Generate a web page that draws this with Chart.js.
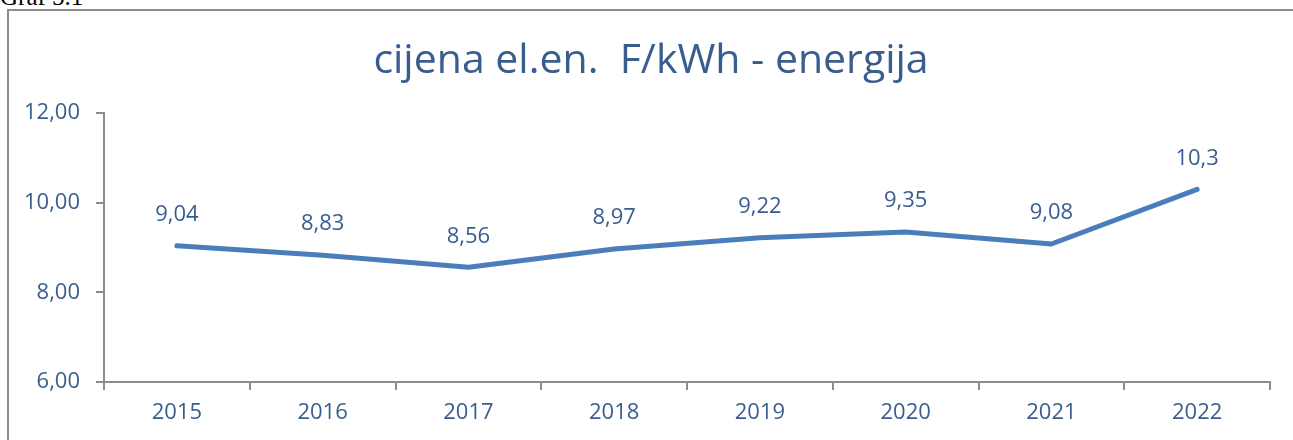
<!DOCTYPE html>
<html>
<head>
<meta charset="utf-8">
<script src="https://cdn.jsdelivr.net/npm/chart.js@4"></script>
<style>
  body { margin: 0; width: 1293px; height: 440px; overflow: hidden; background: #fff; position: relative; }
  #cap { position: absolute; left: 0; top: -16px; font: 25px/25px "Liberation Serif", serif; color: #000; }
  #box { position: absolute; left: 7px; top: 9px; width: 1290px; height: 440px; border-left: 2px solid #8c8c8c; border-top: 2px solid #8c8c8c; }
  #wrap { position: absolute; left: 0; top: 0; width: 1293px; height: 440px; }
</style>
</head>
<body>
<div id="cap">Graf 5.1</div>
<div id="box"></div>
<div id="wrap"><canvas id="myChart"></canvas></div>
<script>
var years = ['2015', '2016', '2017', '2018', '2019', '2020', '2021', '2022'];
var prices = [9.04, 8.83, 8.56, 8.97, 9.22, 9.35, 9.08, 10.3];
var priceLabels = ['9,04', '8,83', '8,56', '8,97', '9,22', '9,35', '9,08', '10,3'];
var yTicks = [6, 8, 10, 12];

var textColor = '#3a5d8f';
var fontName = '"Open Sans", sans-serif';

// labels above each point (no datalabels plugin available)
var pointLabels = {
    id: 'pointLabels',
    afterDatasetsDraw: function (chart) {
        var ctx = chart.ctx;
        var meta = chart.getDatasetMeta(0);
        ctx.save();
        ctx.font = '22px ' + fontName;
        ctx.fillStyle = textColor;
        ctx.textAlign = 'center';
        ctx.textBaseline = 'middle';
        meta.data.forEach(function (pt, i) {
            ctx.fillText(priceLabels[i], pt.x, pt.y - 31);
        });
        ctx.restore();
    }
};

const ctx = document.getElementById('myChart');
var myChart = new Chart(ctx, {
    type: 'line',
    data: {
        labels: years,
        datasets: [{
            data: prices,
            borderColor: '#4a7ebb',
            borderWidth: 5,
            pointRadius: 0,
            tension: 0,
            borderCapStyle: 'round',
            borderJoinStyle: 'round'
        }]
    },
    options: {
        responsive: true,
        maintainAspectRatio: false,
        animation: false,
        layout: { padding: { left: 16, right: 7, top: 0, bottom: 0 } },
        plugins: {
            legend: { display: false },
            tooltip: { enabled: false },
            title: {
                display: true,
                text: 'cijena el.en.  F/kWh - energija',
                color: textColor,
                font: { family: fontName, size: 41, weight: 'normal', lineHeight: 1.2 },
                padding: { top: 37, bottom: 27 }
            }
        },
        scales: {
            x: {
                offset: true,
                grid: { offset: true, drawOnChartArea: false, drawTicks: true, tickLength: 8, color: '#8c8c8c', lineWidth: 2 },
                border: { color: '#8c8c8c', width: 2 },
                ticks: { color: textColor, font: { family: fontName, size: 22 }, padding: 10, maxRotation: 0 },
                afterFit: function (scale) { scale.height = 58; }
            },
            y: {
                min: 6,
                max: 12,
                afterBuildTicks: function (scale) {
                    scale.ticks = yTicks.map(function (v) { return { value: v }; });
                },
                grid: { drawOnChartArea: false, drawTicks: true, tickLength: 8, color: '#8c8c8c', lineWidth: 2 },
                border: { color: '#8c8c8c', width: 2 },
                ticks: {
                    color: textColor,
                    font: { family: fontName, size: 22 },
                    padding: 16,
                    callback: function (value) { return value.toFixed(2).replace('.', ','); }
                },
                afterFit: function (scale) { scale.width = 88; }
            },
            // empty right axis, only keeps the plot's right edge in place
            yRight: {
                position: 'right',
                grid: { display: false },
                border: { display: false },
                ticks: { display: false },
                afterFit: function (scale) { scale.width = 16; }
            }
        }
    },
    plugins: [pointLabels]
});
</script>
</body>
</html>
